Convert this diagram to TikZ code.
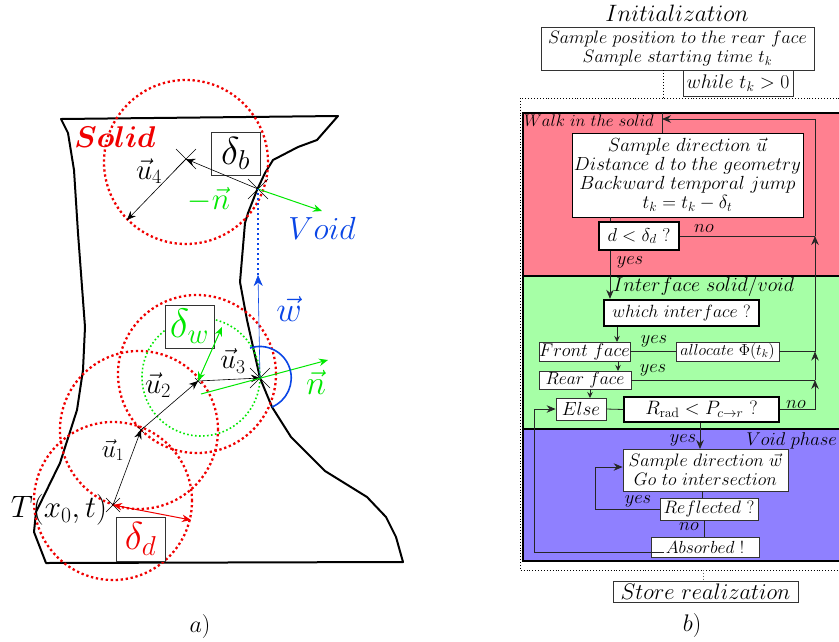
\RequirePackage{fix-cm}
\documentclass[tikz,border=0pt]{standalone}
\usetikzlibrary{arrows.meta,calc}
\definecolor{zred}{HTML}{FF8090}
\definecolor{zgreen}{HTML}{A6FFA6}
\definecolor{zblue}{HTML}{8F80FF}
\definecolor{lred}{HTML}{F00000}
\definecolor{lgreen}{HTML}{00E800}
\definecolor{lblue}{HTML}{0A46E6}
\newcommand{\fs}[1]{\fontsize{#1}{#1}\selectfont}
\newcommand{\bxn}[6][]{%
  \pgfmathsetmacro{\bw}{#4-#2}\pgfmathsetmacro{\bh}{#5-#3}%
  \pgfmathsetmacro{\bcx}{(#4+#2)/2}\pgfmathsetmacro{\bcy}{(#5+#3)/2}%
  \node[bx,minimum width=\bw pt,minimum height=\bh pt,#1] (#6) at (\bcx,\bcy)}
\newcommand{\crs}[2]{\draw[thinl] ($(#1)+(-#2,-#2)$) -- ($(#1)+(#2,#2)$);\draw[thinl] ($(#1)+(-#2,#2)$) -- ($(#1)+(#2,-#2)$);}
\tikzset{
  bx/.style={draw=black!80,fill=white,line width=0.8pt,inner sep=0pt,align=center,font=\fs{18}},
  thickbx/.style={line width=2.4pt,draw=black},
  medbx/.style={line width=1.1pt,draw=black},
  lab/.style={inner sep=0pt,font=\fs{18.5}},
  conn/.style={draw=black!85,line width=0.8pt},
  bigtip/.style={-{Stealth[length=9pt,width=7.5pt,inset=3pt]}},
  smalltip/.style={-{Stealth[length=6pt,width=5.5pt,inset=2pt]}},
  arr/.style={conn,bigtip},
  thinl/.style={black,line width=0.5pt},
  zone/.style={draw=black,line width=1.7pt},
  dots/.style={dotted,line width=0.9pt,black},
  geo/.style={black,line width=2pt,line join=round},
  rcirc/.style={lred,line width=2.3pt,dash pattern=on 2.3pt off 2.7pt},
  vec/.style={black,line width=0.6pt,bigtip},
  gvec/.style={lgreen,line width=1pt,bigtip},
  bothtip/.style={{Stealth[length=9pt,width=7.5pt,inset=3pt]}-{Stealth[length=9pt,width=7.5pt,inset=3pt]}},
}
\begin{document}
\begin{tikzpicture}[x=1pt,y=-1pt]
\clip (0,0) rectangle (839,641);
\fill[white] (0,0) rectangle (839,641);
% ---------- part a
\draw[geo] (61,119) -- (338,116) -- (317,140) -- (298,147) -- (273,160) -- (265,173) -- (257,190) -- (248,213) -- (245,223) -- (240,282) -- (247,320) -- (260,378) -- (272,407) -- (291,437) -- (325,471) -- (367,497) -- (386,517) -- (396,537) -- (403,562) -- (46,563) -- (34,532) -- (36,512) -- (60,463) -- (77,410) -- (83,370) -- (85,327) -- (78,233) -- (74,170) -- (68,133) -- cycle;
\coordinate (p0) at (113,505);
\coordinate (p1) at (141,430);
\coordinate (p2) at (198,381);
\coordinate (p3) at (260,378);
\coordinate (p4) at (186,159);
\coordinate (p5) at (258,189);
\coordinate (e4) at (127,220);
\coordinate (rd) at (191,520);
\coordinate (gw) at (222,327);
\coordinate (nA) at (201,394);
\coordinate (nB) at (328,360);
\coordinate (mn) at (322,211);
\coordinate (wtip) at (258,275);
\draw[rcirc] (113,501) circle (79pt);
\draw[rcirc] (139,430) circle (79pt);
\draw[rcirc] (197,374) circle (79pt);
\draw[rcirc] (186,162) circle (82pt);
\draw[lgreen,line width=1.6pt,dash pattern=on 1.6pt off 2.4pt] (201,377) circle (59pt);
\bxn{211}{132}{260}{175}{bb} {\fs{39}$\delta_b$};
\bxn{165}{305}{214}{348}{bw} {\fs{41}\color{lgreen}$\delta_w$};
\bxn{116}{517}{165}{561}{bd} {\fs{39}\color{lred}$\delta_d$};
\crs{p0}{7}\crs{p1}{3}\crs{p2}{3}\crs{p3}{10}\crs{p4}{10}\crs{p5}{10}
\draw[vec] (p0) -- (p1);
\draw[vec] (p1) -- (p2);
\draw[vec] (p2) -- (p3);
\draw[vec] (p5) -- (p4);
\draw[vec] (p4) -- (e4);
\draw[gvec,bothtip] (p2) -- (gw);
\draw[gvec] (nA) -- (nB);
\draw[gvec] (p5) -- (mn);
\draw[lred,line width=1pt,bothtip] (p0) -- (rd);
\draw[lblue,line width=0.6pt,-{Stealth[length=11pt,width=9pt,inset=3.5pt]}] (p3) -- (wtip);
\draw[lblue,line width=2pt,dash pattern=on 2pt off 3pt] (wtip) -- (p5);
\draw[lblue,line width=1.6pt] (250,348) arc[start angle=108,end angle=-67,radius=31.5pt];
\node[lab,lred,font=\fs{30}] (solid) at (115,137) {\mbox{\boldmath$Solid$}};
\node[lab,lblue,font=\fs{32}] (void) at (322,228) {$Void$};
\node[lab,lblue,font=\fs{35}] (w) at (289,309) {$\vec{w}$};
\node[lab,lgreen,font=\fs{31}] (mnl) at (209,200) {$-\vec{n}$};
\node[lab,lgreen,font=\fs{34}] (nl) at (316,382) {$\vec{n}$};
\node[lab,font=\fs{29}] (u4) at (149,171) {$\vec{u}_4$};
\node[lab,font=\fs{28}] (u3) at (233,361) {$\vec{u}_3$};
\node[lab,font=\fs{29}] (u2) at (158,385) {$\vec{u}_2$};
\node[lab,font=\fs{25}] (u1) at (113,450) {$\vec{u}_1$};
\node[lab,font=\fs{31}] (T) at (59,510) {$T(x_0,t)$};
\node[lab,font=\fs{24}] (cap1) at (200,626) {$a)$};
% ---------- part b
\node[lab,font=\fs{23.7}] (init) at (677,13) {$Initialization$};
\draw[dots] (520,98) rectangle (850,570);
\fill[zred] (523,113) rectangle (850,276);
\fill[zgreen] (523,276) rectangle (850,429);
\fill[zblue] (523,429) rectangle (850,561);
\draw[zone] (523,113) rectangle (850,276);
\draw[zone] (523,276) rectangle (850,429);
\draw[zone] (523,429) rectangle (850,561);
\coordinate (right) at (815,119);
\coordinate (leftr) at (534,552);
\coordinate (cD) at (610,297);
\coordinate (cV) at (663,98);
\coordinate (cW) at (662,119);
\coordinate (cY) at (700,449);
\coordinate (loop) at (595,510);
\coordinate (cS) at (703,570);
\bxn{541}{27}{814}{70}{init2} {$Sample\ position\ to\ the\ rear\ face$\\[1pt]$Sample\ starting\ time\ t_k$};
\bxn[font=\fs{19.7}]{683}{70}{793}{96}{while} {$while\ t_k>0$};
\draw[dots] (init2.south -| cV) -- (cV);
\node[lab,anchor=west,font=\fs{16.8}] (walk) at (524,121) {$Walk\ in\ the\ solid$};
\bxn[draw=black,font=\fs{19}]{572}{133}{803}{217}{samp} {$Sample\ direction\ \vec{u}$\\[0pt]$Distance\ d\ to\ the\ geometry$\\[0pt]$Backward\ temporal\ jump$\\[0pt]$t_k=t_k-\delta_t$};
\bxn[medbx,font=\fs{18.6}]{599}{222}{679}{250}{dt} {$d<\delta_d\ ?$};
\node[lab] (yes1) at (630,262) {$yes$};
\node[lab] (no1) at (704,229) {$no$};
\node[lab,anchor=west,font=\fs{20}] (ifc) at (613,286) {$Interface\ solid/void$};
\bxn[thickbx,font=\fs{17.7}]{604}{300}{759}{326}{which} {$which\ interface\ ?$};
\bxn[font=\fs{18.4}]{539}{342}{630}{361}{front} {$Front\ face$};
\bxn[font=\fs{16}]{676}{342}{779}{361}{alloc} {$allocate\ \Phi(t_k)$};
\bxn[font=\fs{17.6}]{539}{371}{631}{389}{rear} {$Rear\ face$};
\bxn[font=\fs{19}]{556}{398}{606}{420}{else} {$Else$};
\bxn[thickbx,line width=1.7pt,font=\fs{19.4}]{624}{397}{779}{422}{rad} {$R_{\mathrm{rad}}<P_{c\to r}\ ?$};
\node[lab] (yes2) at (654,341) {$yes$};
\node[lab] (yes3) at (653,370) {$yes$};
\node[lab] (no2) at (796,405) {$no$};
\node[lab] (yes4) at (683,440) {$yes$};
\node[lab,anchor=east] (vp) at (837,441) {$Void\ phase$};
\bxn{623}{449}{788}{491}{sampw} {$Sample\ direction\ \vec{w}$\\[1pt]$Go\ to\ intersection$};
\bxn{660}{498}{758}{520}{refl} {$Reflected\ ?$};
\bxn[font=\fs{17.5}]{651}{537}{759}{557}{abs} {$Absorbed\ !$};
\node[lab] (yes5) at (638,501) {$yes$};
\node[lab] (no3) at (689,527) {$no$};
\bxn[font=\fs{22.5}]{613}{581}{798}{602}{store} {$Store\ realization$};
\node[lab,font=\fs{24}] (cap2) at (692,625) {$b)$};
% connectors
\draw[conn] (cW |- samp.north) -- (cW |- 0,113);
\draw[arr] (right) -- (cW);
\draw[conn] (samp.south -| cD) -- (dt.north -| cD);
\draw[arr] (dt.south -| cD) -- (which.north -| cD);
\draw[conn] (dt.east) -- (right |- dt.east);
\draw[arr] (right |- rad.east) -- (right |- rear.east);
\draw[arr] (right |- rear.east) -- (right |- alloc.east);
\draw[arr] (right |- alloc.east) -- (right |- dt.east);
\draw[conn] (right |- dt.east) -- (right);
\draw[conn] (rad.east) -- (right |- rad.east);
\draw[conn] (alloc.east) -- (right |- alloc.east);
\draw[conn] (rear.east) -- (right |- rear.east);
\draw[conn] (front.east) -- (alloc.west);
\draw[conn] (else.east) -- (rad.west);
\draw[conn,smalltip] (617,327) -- (617,342);
\draw[conn,smalltip] (618,361) -- (618,371);
\draw[conn,smalltip] (590,389) -- (590,398);
\draw[arr] (rad.south -| cY) -- (cY);
\draw[conn] (702,491) -- (702,498);
\draw[conn] (704,520) -- (704,537);
\draw[conn] (refl.west) -- (refl.west -| loop) -- (loop |- 0,467);
\draw[arr] (loop |- 0,467) -- (sampw.west |- 0,467);
\draw[conn] (664,552) -- (leftr);
\draw[arr] (leftr) |- (else.west);
\draw[dots,black!60] (cS) -- (store.north -| cS);
\end{tikzpicture}
\end{document}
